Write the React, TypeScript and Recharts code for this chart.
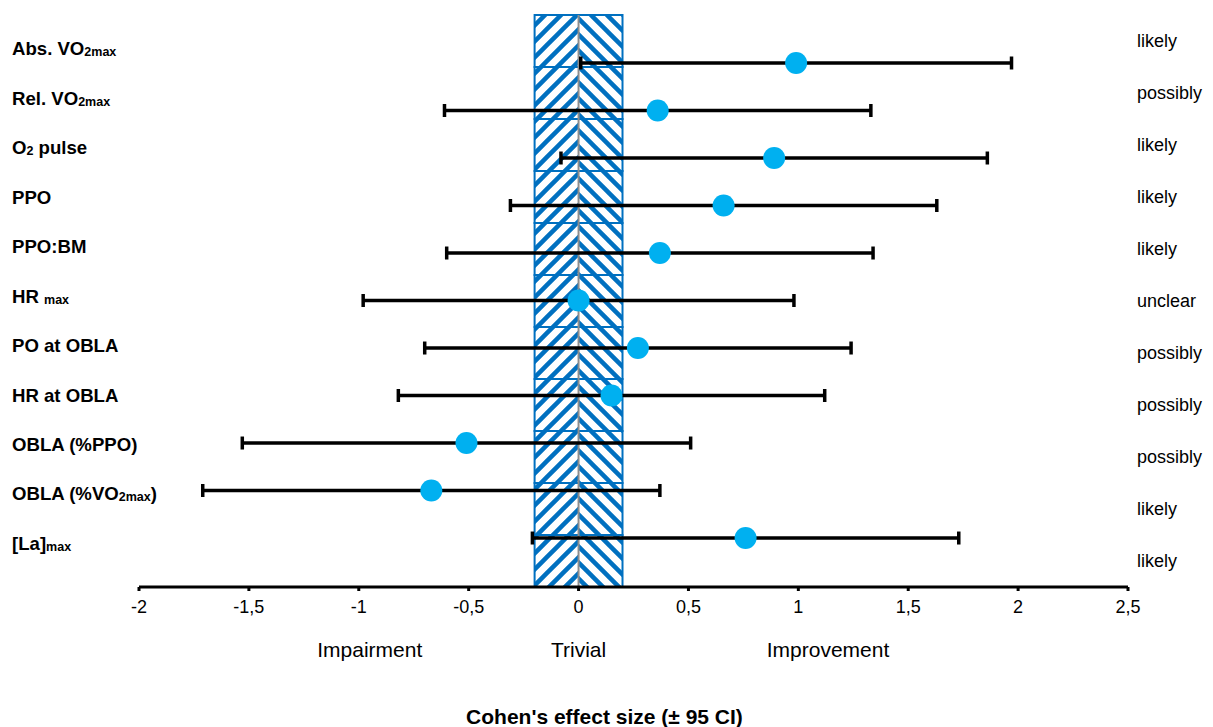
import React from 'react';
import {
    ScatterChart,
    Scatter,
    ErrorBar,
    XAxis,
    YAxis,
    ReferenceArea,
    ReferenceLine,
    Label,
} from 'recharts';

// outcome names; text inside _{...} is drawn as subscript
const outcomes = [
    'Abs. VO_{2max}',
    'Rel. VO_{2max}',
    'O_{2} pulse',
    'PPO',
    'PPO:BM',
    'HR _{max}',
    'PO at OBLA',
    'HR at OBLA',
    'OBLA (%PPO)',
    'OBLA (%VO_{2max})',
    '[La]_{max}',
];
const effectSizes = [0.99, 0.36, 0.89, 0.66, 0.37, 0.0, 0.27, 0.15, -0.51, -0.67, 0.76];
const ci95 = [0.98, 0.97, 0.97, 0.97, 0.97, 0.98, 0.97, 0.97, 1.02, 1.04, 0.97];
const inferences = ['likely', 'possibly', 'likely', 'likely', 'likely', 'unclear', 'possibly', 'possibly', 'possibly', 'likely', 'likely'];

const xTicks = [-2, -1.5, -1, -0.5, 0, 0.5, 1, 1.5, 2, 2.5];
const trivialBand = [-0.2, 0.2];
const zoneNames = ['Impairment', 'Trivial', 'Improvement'];
const zoneCentres = [-0.95, 0, 1.135];

const rows = outcomes.map((_, i) => i);
const points = effectSizes.map((d, i) => ({ d, row: i, ci: ci95[i] }));
// invisible anchors so the label-only axes get a domain
const anchors = rows.map((r) => ({ d: zoneCentres[r % zoneCentres.length], row: r }));

const FONT = '"Liberation Sans", Arial, sans-serif';
const BLUE = '#0070c0';
const DOT = '#00b0f0';

const NameTick = (props: any) => {
    const parts = outcomes[props.payload.value].split(/_\{|\}/);
    return (
        <text x={12} y={props.y} dominantBaseline="central" fontFamily={FONT} fontWeight="bold" fontSize={18.6} fill="#000" style={{ whiteSpace: 'pre' }}>
            {parts.map((p, i) =>
                i % 2 ? (
                    <tspan key={i} fontSize={12.5} dy={4}>{p}</tspan>
                ) : (
                    <tspan key={i} dy={i ? -4 : 0}>{p}</tspan>
                )
            )}
        </text>
    );
};

const InferenceTick = (props: any) => (
    <text x={1137} y={props.y} dominantBaseline="central" fontFamily={FONT} fontSize={18} fill="#000">
        {inferences[props.payload.value]}
    </text>
);

const ZoneTick = (props: any) => (
    <text x={props.x} y={props.y + 14} textAnchor="middle" dominantBaseline="central" fontFamily={FONT} fontSize={21} fill="#000">
        {zoneNames[zoneCentres.indexOf(props.payload.value)]}
    </text>
);

const Dot = (props: any) => <circle cx={props.cx} cy={props.cy} r={11} fill={DOT} />;
const Nothing = () => <g />;

export default function App() {
    return (
        <div style={{ position: 'absolute', left: 0, top: 0, background: '#fff' }}>
            <ScatterChart width={1213} height={727} margin={{ top: 15, right: 84, bottom: 50, left: 138 }}>
                <defs>
                    <pattern id="chevL" patternUnits="userSpaceOnUse" width={16} height={16}>
                        <path d="M0,16 L16,0 M-4,4 L4,-4 M12,20 L20,12" stroke={BLUE} strokeWidth={4.5} />
                    </pattern>
                    <pattern id="chevR" patternUnits="userSpaceOnUse" width={16} height={16}>
                        <path d="M0,0 L16,16 M-4,12 L4,20 M12,-4 L20,4" stroke={BLUE} strokeWidth={4.5} />
                    </pattern>
                </defs>
                <XAxis
                    type="number"
                    dataKey="d"
                    domain={[-2, 2.5]}
                    ticks={xTicks}
                    allowDataOverflow
                    height={40}
                    stroke="#000"
                    axisLine={{ strokeWidth: 3 }}
                    tickLine={{ strokeWidth: 3 }}
                    tickSize={4}
                    tickMargin={9}
                    tick={{ fill: '#000', fontSize: 18, fontFamily: FONT }}
                    tickFormatter={(v: number) => String(v).replace('.', ',')}
                />
                <XAxis
                    xAxisId="zones"
                    type="number"
                    dataKey="d"
                    domain={[-2, 2.5]}
                    ticks={zoneCentres}
                    allowDataOverflow
                    interval={0}
                    height={50}
                    axisLine={false}
                    tickLine={false}
                    tick={<ZoneTick />}
                >
                    <Label
                        content={(p: any) => (
                            <text
                                x={p.viewBox.x + p.viewBox.width / 2 - 29}
                                y={716}
                                textAnchor="middle"
                                dominantBaseline="central"
                                fontFamily={FONT}
                                fontWeight="bold"
                                fontSize={21}
                                fill="#000"
                            >
                                Cohen's effect size (± 95 CI)
                            </text>
                        )}
                    />
                </XAxis>
                <YAxis yAxisId="pts" type="number" dataKey="row" domain={[-1.0105, 11.031]} reversed allowDataOverflow hide width={0} />
                <YAxis
                    yAxisId="names"
                    type="number"
                    dataKey="row"
                    domain={[-0.667, 10.889]}
                    ticks={rows}
                    reversed
                    allowDataOverflow
                    width={1}
                    axisLine={false}
                    tickLine={false}
                    tick={<NameTick />}
                    interval={0}
                />
                <YAxis
                    yAxisId="cells"
                    orientation="right"
                    type="number"
                    dataKey="row"
                    domain={[-0.5, 10.5]}
                    ticks={rows}
                    reversed
                    allowDataOverflow
                    width={1}
                    axisLine={false}
                    tickLine={false}
                    tick={<InferenceTick />}
                    interval={0}
                />

                {/* trivial band, hatched in a chevron pattern, one cell per outcome */}
                <ReferenceArea yAxisId="cells" x1={trivialBand[0]} x2={0} y1={-0.5} y2={10.5} fill="url(#chevL)" fillOpacity={1} stroke="none" />
                <ReferenceArea yAxisId="cells" x1={0} x2={trivialBand[1]} y1={-0.5} y2={10.5} fill="url(#chevR)" fillOpacity={1} stroke="none" />
                {rows.map((r) => (
                    <ReferenceArea
                        key={r}
                        yAxisId="cells"
                        x1={trivialBand[0]}
                        x2={trivialBand[1]}
                        y1={r - 0.5}
                        y2={r + 0.5}
                        fill="none"
                        stroke={BLUE}
                        strokeWidth={2}
                    />
                ))}
                <ReferenceLine yAxisId="cells" x={0} stroke="#8c8c8c" strokeWidth={2} />

                <Scatter xAxisId="zones" yAxisId="names" data={anchors} shape={<Nothing />} isAnimationActive={false} />
                <Scatter xAxisId="zones" yAxisId="cells" data={anchors} shape={<Nothing />} isAnimationActive={false} />
                <Scatter yAxisId="pts" data={points} shape={<Dot />} isAnimationActive={false}>
                    <ErrorBar dataKey="ci" direction="x" width={6.5} strokeWidth={3.5} stroke="#000" isAnimationActive={false} />
                </Scatter>
            </ScatterChart>
        </div>
    );
}
